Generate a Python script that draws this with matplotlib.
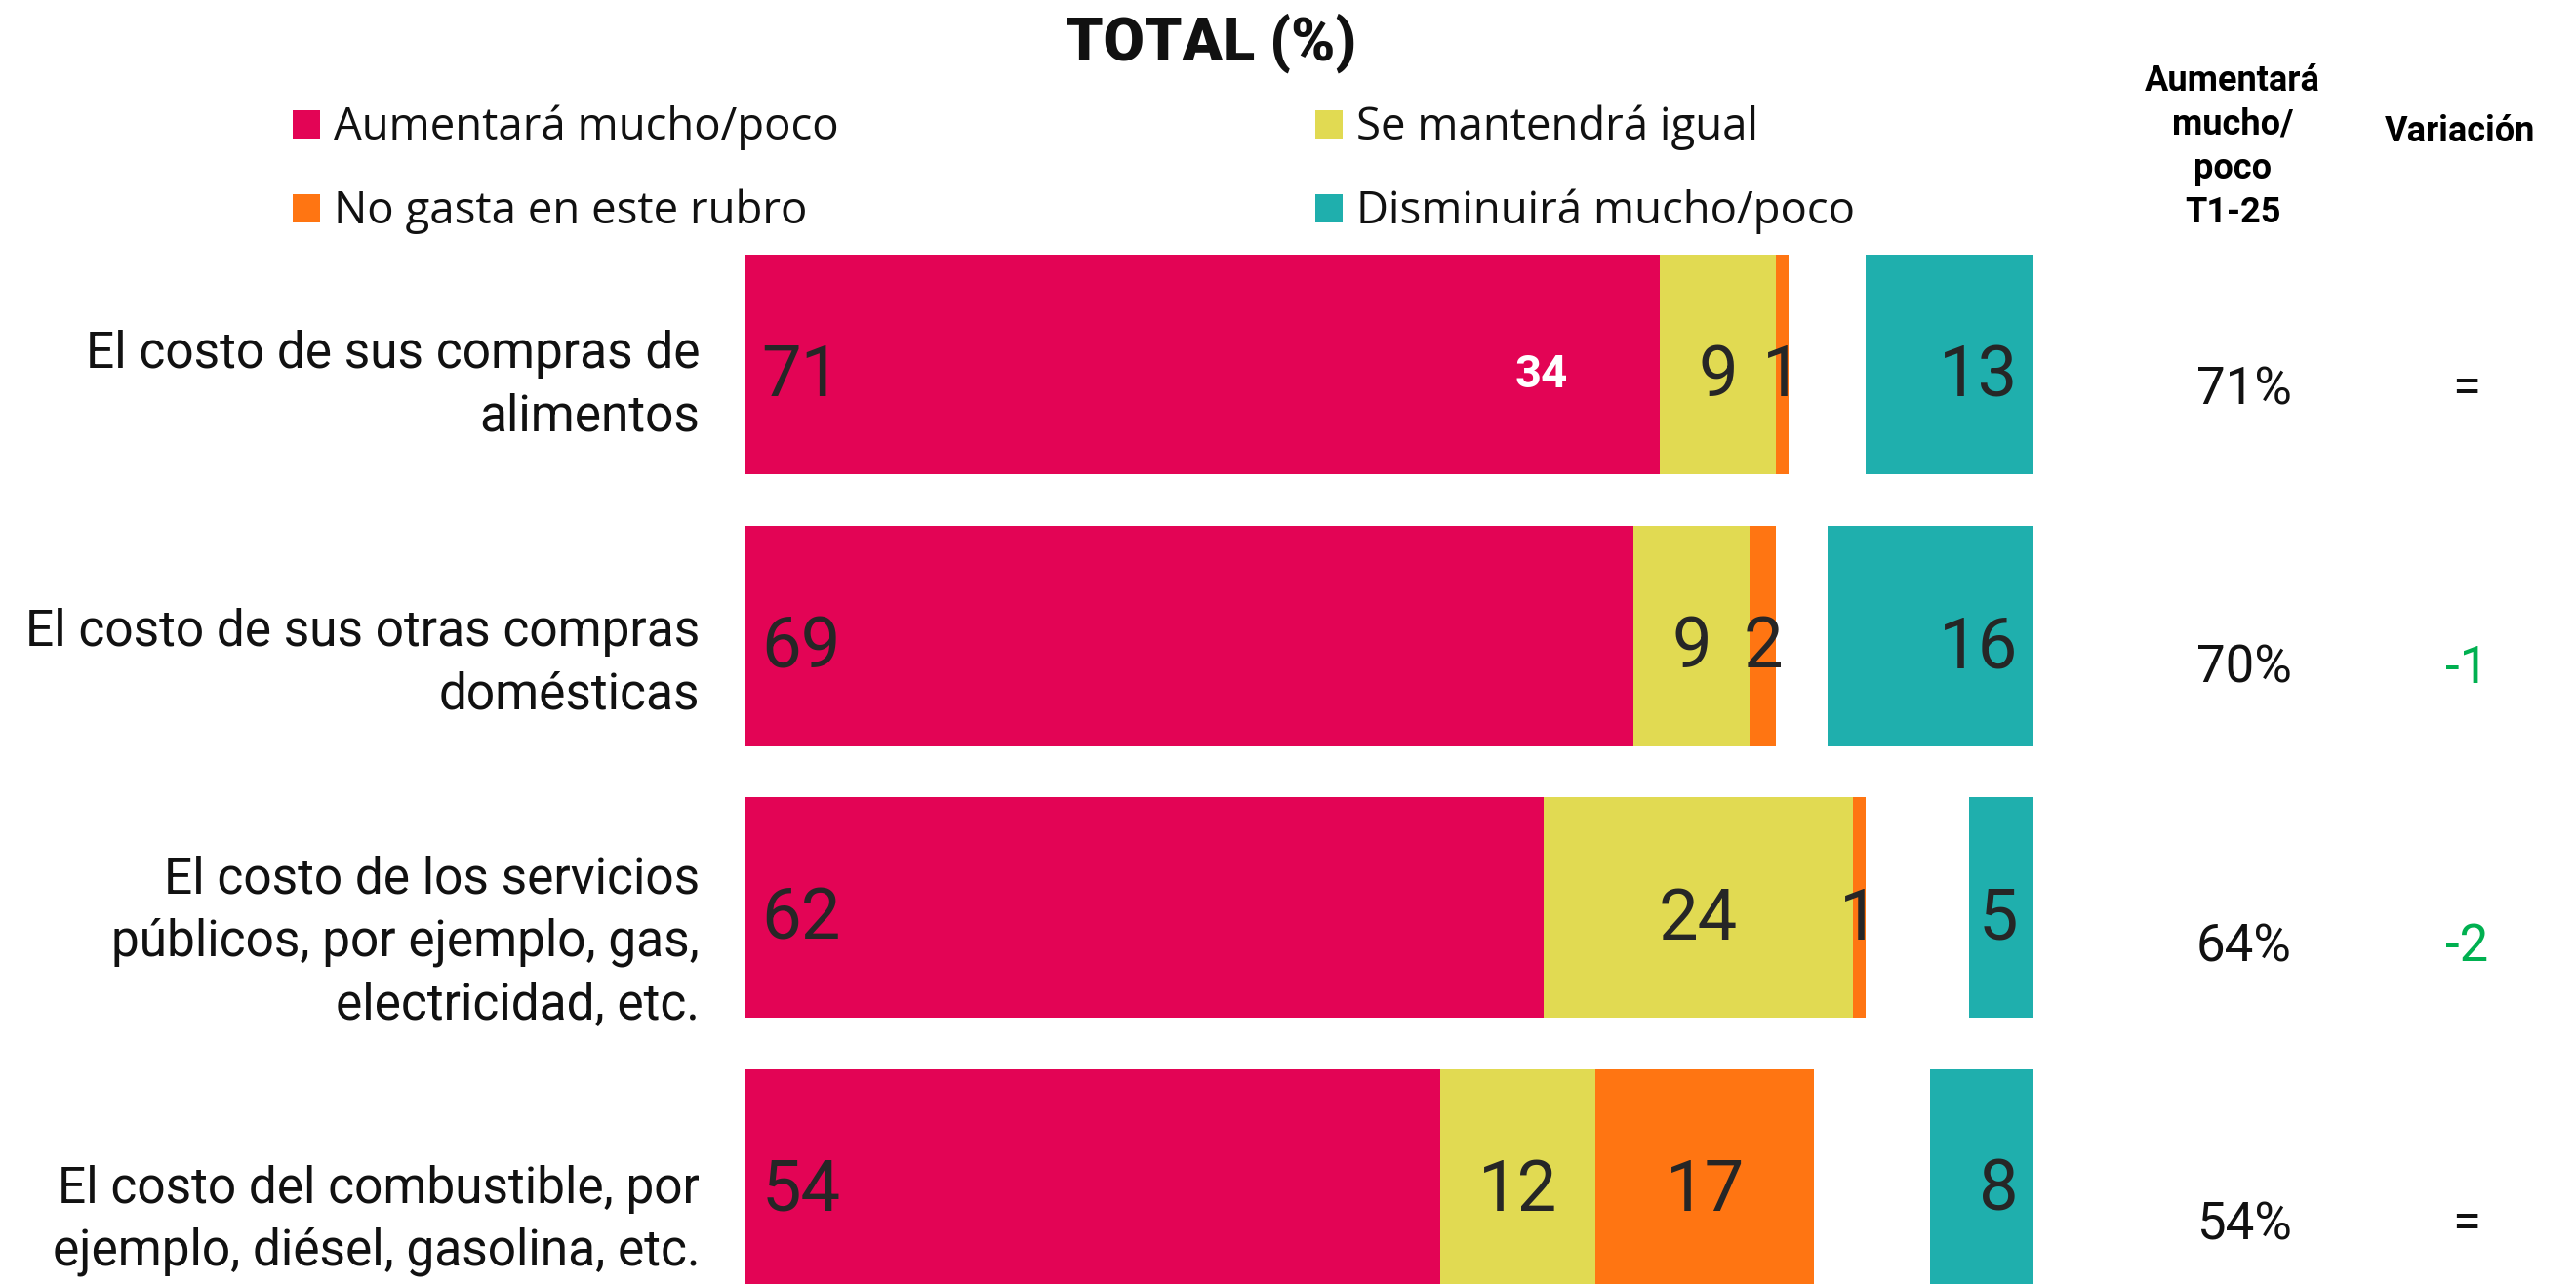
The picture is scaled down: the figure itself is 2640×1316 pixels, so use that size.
import matplotlib
matplotlib.use("Agg")
import matplotlib.pyplot as plt
from matplotlib.patches import Rectangle

# ---------------- data ----------------
categories = [
    "El costo de sus compras de\nalimentos",
    "El costo de sus otras compras\ndomésticas",
    "El costo de los servicios\npúblicos, por ejemplo, gas,\nelectricidad, etc.",
    "El costo del combustible, por\nejemplo, diésel, gasolina, etc.",
]
aumentara = [71, 69, 62, 54]
mantendra = [9, 9, 24, 12]
no_gasta = [1, 2, 1, 17]
disminuira = [13, 16, 5, 8]
aumentara_t1 = ["71%", "70%", "64%", "54%"]
variacion = ["=", "-1", "-2", "="]
variacion_colors = ["#111111", "#00B050", "#00B050", "#111111"]
series_names = ["Aumentará mucho/poco", "Se mantendrá igual",
                "No gasta en este rubro", "Disminuirá mucho/poco"]
extra_label = "34"
extra_label_x = 61.8
title = "TOTAL (%)"
header_t1 = ["Aumentará", "mucho/", "poco", "T1-25"]
header_var = "Variación"

# ---------------- style ----------------
C_RED = "#E30455"
C_YEL = "#E1DA52"
C_ORA = "#FF7512"
C_TEA = "#1FAFAD"
series_colors = [C_RED, C_YEL, C_ORA, C_TEA]
TXT = "#262626"
FONT = ["Roboto", "DejaVu Sans"]
plt.rcParams["font.family"] = FONT

W, H = 2640, 1316
fig = plt.figure(figsize=(W / 200, H / 200), dpi=200)


def fx(px):
    return px / W


def fy(py):
    return 1 - py / H


# ---------------- bars ----------------
ROW0, ROWSTEP = 373.5, 278.3
ax = fig.add_axes([fx(763), 0, fx(2084) - fx(763), fy(240)])
ax.set_xlim(0, 100)
ax.set_ylim((H - ROW0) / ROWSTEP, (240 - ROW0) / ROWSTEP)
ax.axis("off")

y = list(range(len(categories)))
bh = 0.81
left2 = aumentara
left3 = [a + m for a, m in zip(aumentara, mantendra)]
left4 = [100 - d for d in disminuira]
ax.barh(y, aumentara, height=bh, color=C_RED, linewidth=0)
ax.barh(y, mantendra, left=left2, height=bh, color=C_YEL, linewidth=0)
ax.barh(y, no_gasta, left=left3, height=bh, color=C_ORA, linewidth=0)
ax.barh(y, disminuira, left=left4, height=bh, color=C_TEA, linewidth=0)

VAL_FS = 26
for i in y:
    kw = dict(textcoords="offset points", va="center_baseline",
              fontsize=VAL_FS, color=TXT)
    ax.annotate(str(aumentara[i]), (1.3, i), xytext=(0, -2), ha="left", **kw)
    ax.annotate(str(mantendra[i]), (left2[i] + mantendra[i] / 2, i),
                xytext=(0, -2), ha="center", **kw)
    ax.annotate(str(no_gasta[i]), (left3[i] + no_gasta[i] / 2, i),
                xytext=(0, -2), ha="center", **kw)
    ax.annotate(str(disminuira[i]), (98.8, i), xytext=(0, -2), ha="right", **kw)

ax.annotate(extra_label, (extra_label_x, 0), xytext=(0, -2), textcoords="offset points",
            ha="center", va="center_baseline", fontsize=17, fontweight="bold",
            color="white")

# ---------------- category labels & right columns ----------------
LAB0, LABSTEP = 395, 285.3
VAL0 = 400
for i, cat in enumerate(categories):
    fig.text(fx(717), fy(LAB0 + LABSTEP * i), cat, ha="right", va="center",
             multialignment="right", fontsize=18.5, color="#111111",
             linespacing=1.36)
    yy = fy(VAL0 + LABSTEP * i)
    fig.text(fx(2300), yy, aumentara_t1[i], ha="center", va="center",
             fontsize=19, color="#111111")
    fig.text(fx(2528), yy, variacion[i], ha="center", va="center",
             fontsize=19, color=variacion_colors[i])

# ---------------- headers ----------------
for k, line in enumerate(header_t1):
    fig.text(fx(2288), fy(93 + 45 * k), line, ha="center", va="baseline",
             fontsize=13, fontweight="bold", color="#000000")
fig.text(fx(2521), fy(145), header_var, ha="center", va="baseline",
         fontsize=13, fontweight="bold", color="#000000")

fig.text(fx(1241), fy(62), title, ha="center", va="baseline",
         fontsize=22, fontweight="black", color="#111111")

# ---------------- legend ----------------
leg_pos = [(300, 113), (1348, 113), (300, 199), (1348, 199)]
for (px, py), name, col in zip(leg_pos, series_names, series_colors):
    fig.add_artist(Rectangle((fx(px), fy(py + 29)), 28 / W, 29 / H,
                             transform=fig.transFigure, color=col, lw=0))
    fig.text(fx(px + 42), fy(py + 30), name, ha="left", va="baseline",
             fontsize=16.4, family=["Open Sans", "DejaVu Sans"], color="#111111")

fig.savefig("out.png", dpi=200, facecolor="white")
